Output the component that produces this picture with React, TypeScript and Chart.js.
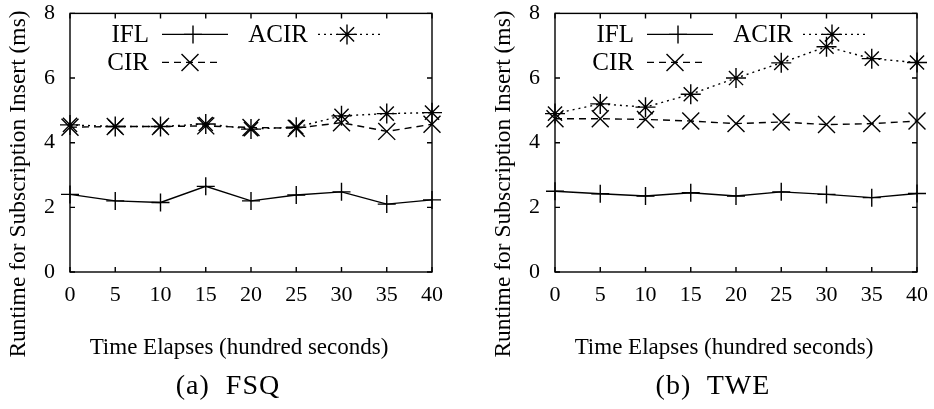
import React, { useEffect, useRef } from 'react';
import { Chart, registerables } from 'chart.js';

Chart.register(...registerables);

// ---- data ----
const TIME = [0, 5, 10, 15, 20, 25, 30, 35, 40];
const Y_TICKS = [0, 2, 4, 6, 8];
const SERIES = ['IFL', 'CIR', 'ACIR'];

const FSQ_IFL = [2.4, 2.2, 2.15, 2.65, 2.2, 2.38, 2.48, 2.1, 2.23];
const FSQ_CIR = [4.48, 4.5, 4.5, 4.52, 4.47, 4.45, 4.62, 4.35, 4.57];
const FSQ_ACIR = [4.55, 4.5, 4.5, 4.58, 4.42, 4.48, 4.83, 4.9, 4.93];

const TWE_IFL = [2.5, 2.42, 2.35, 2.45, 2.35, 2.48, 2.4, 2.3, 2.43];
const TWE_CIR = [4.74, 4.74, 4.72, 4.67, 4.59, 4.64, 4.56, 4.59, 4.67];
const TWE_ACIR = [4.9, 5.2, 5.1, 5.5, 6.0, 6.47, 6.97, 6.6, 6.48];

const X_TITLE = 'Time Elapses (hundred seconds)';
const Y_TITLE = 'Runtime for Subscription Insert (ms)';
const CAPTIONS = ['(a)  FSQ', '(b)  TWE'];

const INK = '#000';
const FONT = 'Liberation Serif';

function mark(ctx: CanvasRenderingContext2D, style: string, x: number, y: number, r: number) {
  ctx.beginPath();
  if (style === 'cross' || style === 'star') {
    ctx.moveTo(x - r, y);
    ctx.lineTo(x + r, y);
    ctx.moveTo(x, y - r);
    ctx.lineTo(x, y + r);
  }
  if (style === 'crossRot' || style === 'star') {
    const d = r * Math.SQRT1_2;
    ctx.moveTo(x - d, y - d);
    ctx.lineTo(x + d, y + d);
    ctx.moveTo(x + d, y - d);
    ctx.lineTo(x - d, y + d);
  }
  ctx.stroke();
}

// legend slots (offsets from chart area left/top), per dataset index
const SLOTS = [
  { textRight: 79, s0: 92, s1: 158, row: 21 },
  { textRight: 79, s0: 92, s1: 152, row: 49 },
  { textRight: 238, s0: 248, s1: 310, row: 21 },
];

const framePlugin = {
  id: 'gpFrame',
  beforeDatasetsDraw(chart: any) {
    const { ctx, chartArea: a, scales } = chart;
    ctx.save();
    ctx.strokeStyle = INK;
    ctx.lineWidth = 1.4;
    ctx.setLineDash([]);
    ctx.strokeRect(a.left, a.top, a.right - a.left, a.bottom - a.top);
    const L = 5;
    ctx.beginPath();
    for (const v of Y_TICKS) {
      const py = scales.y.getPixelForValue(v);
      ctx.moveTo(a.left, py);
      ctx.lineTo(a.left + L, py);
      ctx.moveTo(a.right, py);
      ctx.lineTo(a.right - L, py);
    }
    for (const v of TIME) {
      const px = scales.x.getPixelForValue(v);
      ctx.moveTo(px, a.bottom);
      ctx.lineTo(px, a.bottom - L);
      ctx.moveTo(px, a.top);
      ctx.lineTo(px, a.top + L);
    }
    ctx.stroke();
    ctx.restore();
  },
  afterDraw(chart: any) {
    const { ctx, chartArea: a } = chart;
    ctx.save();
    ctx.fillStyle = INK;
    // y title
    ctx.font = `23.5px "${FONT}"`;
    ctx.textAlign = 'center';
    ctx.textBaseline = 'middle';
    ctx.save();
    ctx.translate(a.left - 51, a.bottom - 88);
    ctx.rotate(-Math.PI / 2);
    ctx.fillText(Y_TITLE, 0, 0);
    ctx.restore();
    // x title
    ctx.font = `23px "${FONT}"`;
    ctx.fillText(X_TITLE, (a.left + a.right) / 2 - 12, a.bottom + 76);
    // legend
    ctx.font = `25px "${FONT}"`;
    ctx.textAlign = 'right';
    chart.data.datasets.forEach((ds: any, i: number) => {
      const s = SLOTS[i];
      const y = a.top + s.row;
      ctx.fillText(ds.label, a.left + s.textRight, y + 1);
      ctx.strokeStyle = INK;
      ctx.lineWidth = 1.4;
      ctx.setLineDash(ds.borderDash || []);
      ctx.beginPath();
      ctx.moveTo(a.left + s.s0, y);
      ctx.lineTo(a.left + s.s1, y);
      ctx.stroke();
      ctx.setLineDash([]);
      mark(ctx, ds.pointStyle, a.left + (s.s0 + s.s1) / 2 - 2, y, ds.pointRadius);
    });
    ctx.restore();
  },
};

function pts(vals: number[]) {
  return TIME.map((t, i) => ({ x: t, y: vals[i] }));
}

function Panel({ left, ifl, cir, acir, caption }: any) {
  const ref = useRef<HTMLCanvasElement | null>(null);
  useEffect(() => {
    const common = {
      borderColor: INK,
      borderWidth: 1.4,
      pointBorderColor: INK,
      pointBackgroundColor: 'rgba(0,0,0,0)',
      pointBorderWidth: 1.4,
      fill: false,
      tension: 0,
      clip: false,
    };
    const tickFont = { family: FONT, size: 22 };
    const chart = new Chart(ref.current as HTMLCanvasElement, {
      type: 'line',
      data: {
        datasets: [
          { ...common, label: SERIES[0], data: pts(ifl), borderDash: [], pointStyle: 'cross', pointRadius: 9 },
          { ...common, label: SERIES[1], data: pts(cir), borderDash: [7, 5], pointStyle: 'crossRot', pointRadius: 12 },
          { ...common, label: SERIES[2], data: pts(acir), borderDash: [2, 4], pointStyle: 'star', pointRadius: 10 },
        ] as any,
      },
      options: {
        responsive: false,
        animation: false,
        layout: { padding: { left: 0, right: 17, top: 0, bottom: 0 } },
        plugins: { legend: { display: false }, tooltip: { enabled: false } },
        scales: {
          x: {
            type: 'linear',
            min: 0,
            max: 40,
            afterFit: (s: any) => { s.height = 137; s.paddingLeft = 0; s.paddingRight = 0; },
            afterBuildTicks: (s: any) => { s.ticks = TIME.map((v) => ({ value: v })); },
            grid: { display: false, drawTicks: false },
            border: { display: false },
            ticks: { padding: 10, font: tickFont, color: INK, maxRotation: 0, autoSkip: false },
          },
          y: {
            type: 'linear',
            min: 0,
            max: 8,
            afterFit: (s: any) => { s.width = 70; s.paddingTop = 13; s.paddingBottom = 0; },
            afterBuildTicks: (s: any) => { s.ticks = Y_TICKS.map((v) => ({ value: v })); },
            grid: { display: false, drawTicks: false },
            border: { display: false },
            ticks: { padding: 15, font: tickFont, color: INK },
          },
        },
      } as any,
      plugins: [framePlugin],
    });
    return () => chart.destroy();
  }, []);
  return (
    <>
      <canvas
        ref={ref}
        width={449}
        height={409}
        style={{ position: 'absolute', left, top: 0, width: 449, height: 409 }}
      />
      <div
        style={{
          position: 'absolute',
          left: left + 128,
          width: 200,
          top: 370,
          height: 30,
          lineHeight: '30px',
          textAlign: 'center',
          fontFamily: FONT,
          fontSize: 28,
          letterSpacing: 1,
          whiteSpace: 'pre',
          color: INK,
        }}
      >
        {caption}
      </div>
    </>
  );
}

export default function App() {
  return (
    <div style={{ position: 'absolute', left: 0, top: 0, width: 934, height: 409, background: '#fff' }}>
      <Panel left={0} ifl={FSQ_IFL} cir={FSQ_CIR} acir={FSQ_ACIR} caption={CAPTIONS[0]} />
      <Panel left={485} ifl={TWE_IFL} cir={TWE_CIR} acir={TWE_ACIR} caption={CAPTIONS[1]} />
    </div>
  );
}
